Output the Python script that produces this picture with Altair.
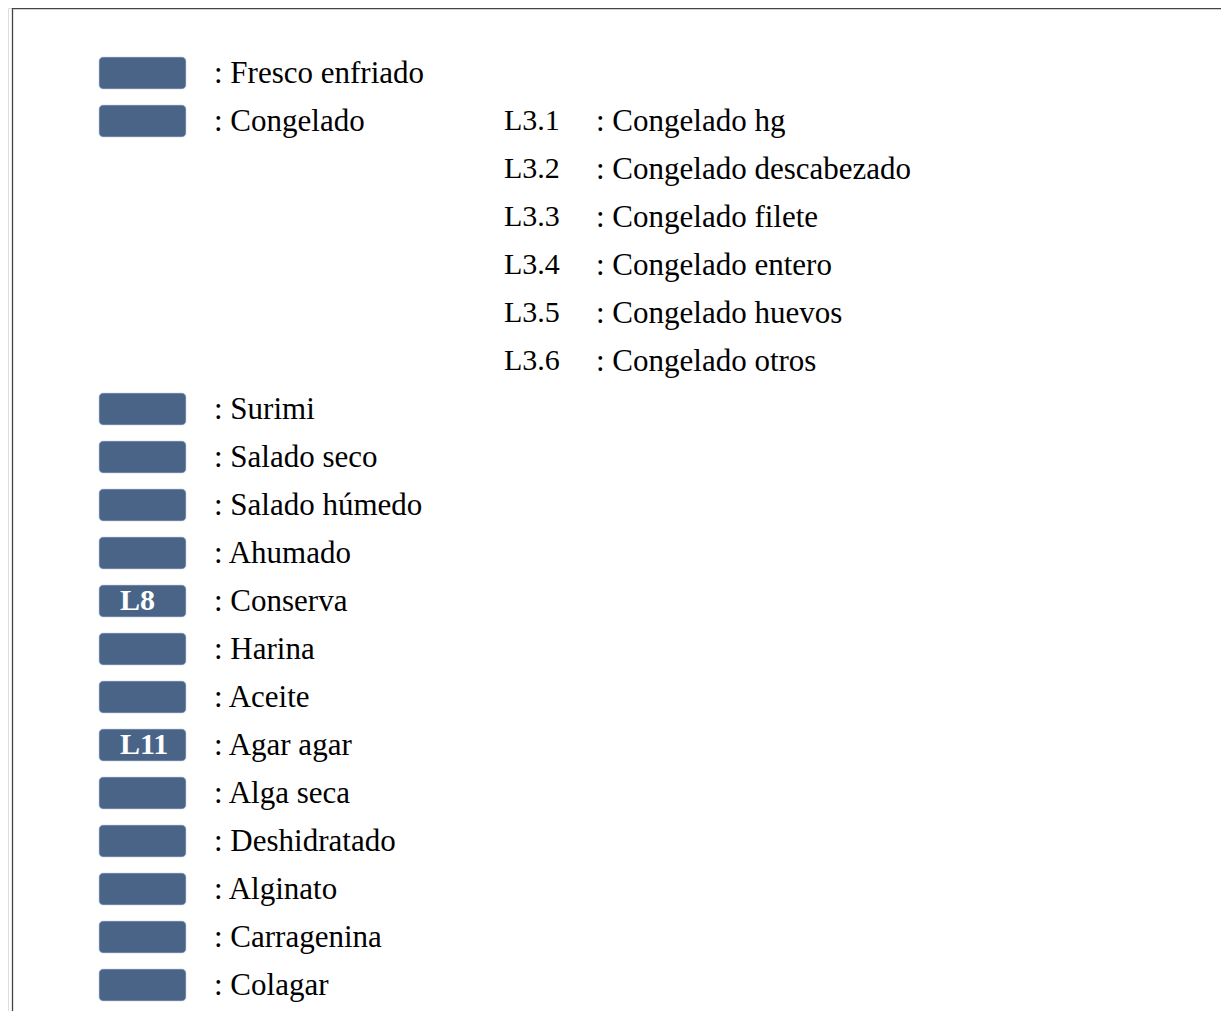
import altair as alt
import pandas as pd

# ---- data ----
main_labels = ["Fresco enfriado", "Congelado", "Surimi", "Salado seco", "Salado húmedo",
               "Ahumado", "Conserva", "Harina", "Aceite", "Agar agar", "Alga seca",
               "Deshidratado", "Alginato", "Carragenina", "Colagar"]
box_codes = ["", "", "", "", "", "", "L8", "", "", "L11", "", "", "", "", ""]
sub_parent = "Congelado"
sub_codes = ["L3.1", "L3.2", "L3.3", "L3.4", "L3.5", "L3.6"]
sub_labels = ["Congelado hg", "Congelado descabezado", "Congelado filete",
              "Congelado entero", "Congelado huevos", "Congelado otros"]

# build rows: the sub-items of "Congelado" occupy consecutive lines
main_rows, sub_rows = [], []
r = 0
for lab in main_labels:
    main_rows.append(r)
    if lab == sub_parent:
        sub_rows = [r + i for i in range(len(sub_codes))]
        r += len(sub_codes)
    else:
        r += 1

main_df = pd.DataFrame({"row": main_rows, "label": [": " + s for s in main_labels],
                        "code": box_codes})
sub_df = pd.DataFrame({"row": sub_rows, "code": sub_codes,
                       "label": [": " + s for s in sub_labels]})
one = pd.DataFrame({"k": [0]})

W = 1213
H = 1003
ROW_PX = 48
TOP_PX = 65
yscale = alt.Scale(domain=[-TOP_PX / ROW_PX, (H - TOP_PX) / ROW_PX], reverse=True,
                   nice=False, zero=False)
yq = alt.Y("row:Q", scale=yscale, axis=None)

BOX = "#4a6488"
FONT = "Liberation Serif"
FS = 30
FS_LABEL = 31

frame_left = alt.Chart(one).mark_rule(color="#444", strokeWidth=1.3).encode(
    x=alt.value(4.5), y=alt.value(0), y2=alt.value(H))
frame_top = alt.Chart(one).mark_rule(color="#444", strokeWidth=1.3).encode(
    x=alt.value(4), x2=alt.value(W), y=alt.value(0.7))

boxes = alt.Chart(main_df).transform_calculate(
    y0="datum.row - 1/3", y1="datum.row + 1/3"
).mark_rect(color=BOX, cornerRadius=4, stroke="#c8d2e0", strokeWidth=0.6).encode(
    x=alt.value(91), x2=alt.value(178),
    y=alt.Y("y0:Q", scale=yscale, axis=None), y2="y1:Q",
)

main_text = alt.Chart(main_df).mark_text(
    font=FONT, fontSize=FS_LABEL, align="left", baseline="alphabetic", dy=9.5, color="#000"
).encode(x=alt.value(206), y=yq, text="label:N")

code_text = alt.Chart(main_df).transform_filter("datum.code != ''").mark_text(
    font=FONT, fontSize=FS, fontWeight="bold", align="left", baseline="alphabetic",
    dy=9, color="white"
).encode(x=alt.value(112), y=yq, text="code:N")

sub_code_text = alt.Chart(sub_df).mark_text(
    font=FONT, fontSize=FS, align="left", baseline="alphabetic", dy=9, color="#000"
).encode(x=alt.value(496), y=yq, text="code:N")

sub_label_text = alt.Chart(sub_df).mark_text(
    font=FONT, fontSize=FS_LABEL, align="left", baseline="alphabetic", dy=9.5, color="#000"
).encode(x=alt.value(588), y=yq, text="label:N")

chart = alt.layer(frame_left, frame_top, boxes, main_text, code_text,
                  sub_code_text, sub_label_text).properties(
    width=W, height=H,
    autosize=alt.AutoSizeParams(type="none"),
    padding=0,
).configure_view(stroke=None).configure(background="white")

chart.save("out.html", embed_options={"renderer": "svg", "actions": False})
